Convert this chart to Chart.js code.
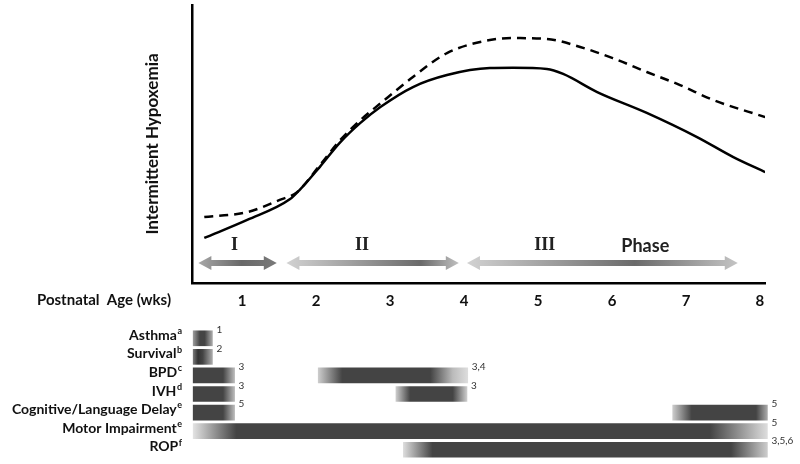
<!DOCTYPE html>
<html>
<head>
<meta charset="utf-8">
<title>Intermittent Hypoxemia and Outcomes by Postnatal Age</title>
<script src="https://cdn.jsdelivr.net/npm/chart.js@4.4.1/dist/chart.umd.min.js"></script>
<style>
  html, body { margin: 0; padding: 0; background: #fff; }
  #wrap { position: relative; width: 800px; height: 464px; }
  #topBox { position: absolute; left: 0; top: 0; width: 800px; height: 320px; }
  #botBox { position: absolute; left: 0; top: 320px; width: 800px; height: 144px; }
</style>
</head>
<body>
<div id="wrap">
  <div id="topBox"><canvas id="ihChart"></canvas></div>
  <div id="botBox"><canvas id="outcomeChart"></canvas></div>
</div>
<script>
/* =========================================
   Data
   ========================================= */
const weeks = [1, 2, 3, 4, 5, 6, 7, 8];

// solid curve
const solidX = [0.49, 1.07, 1.65, 1.78, 2.05, 2.32, 2.6, 2.87, 3.31, 3.77, 4.35, 4.66, 5.12, 5.34, 5.8, 6.47, 7.15, 7.64, 8.07];
const solidY = [16.2, 22.7, 30.2, 33.5, 41.7, 50.4, 57.6, 63.3, 70.5, 74.8, 77.3, 77.4, 77.0, 75.2, 68.7, 61.2, 52.5, 45.3, 39.9];

// dashed curve
const dashX = [0.49, 1.07, 1.51, 1.74, 2.05, 2.32, 2.6, 2.87, 3.31, 3.77, 4.35, 4.66, 5.12, 5.57, 6.01, 6.47, 6.92, 7.37, 8.07];
const dashY = [23.7, 25.5, 29.9, 32.6, 42.3, 51.2, 58.6, 64.6, 74.1, 82.7, 87.4, 88.1, 87.8, 84.9, 80.9, 75.9, 71.2, 65.8, 59.7];

// phases
const phaseNames = ['I', 'II', 'III'];
const phaseStart = [0.41, 1.6, 4.04];
const phaseEnd = [1.47, 3.93, 7.7];
const phaseLabelX = [0.9, 2.62, 5.09];
const phaseWordX = 6.45;

// outcomes
const conditions = ['Asthma', 'Survival', 'BPD', 'IVH', 'Cognitive/Language Delay', 'Motor Impairment', 'ROP'];
const conditionSup = ['a', 'b', 'c', 'd', 'e', 'e', 'f'];
const earlyRange = [[0.34, 0.6], [0.34, 0.6], [0.34, 0.9], [0.34, 0.9], [0.34, 0.9], [0.34, 8.1], [3.18, 8.1]];
const earlyRefs = ['1', '2', '3', '3', '5', '5', '3,5,6'];
const lateRange = [null, null, [2.03, 4.05], [3.08, 4.04], [6.82, 8.1], null, null];
const lateRefs = [null, null, '3,4', '3', '5', null, null];

/* =========================================
   Styling
   ========================================= */
const FONT = 'Lato, "Open Sans", sans-serif';
const INK = '#111';
const X_MIN = 0.324;
const X_MAX_TOP = 8.068;
const X_MAX_BOT = 8.135;

const arrowShade = [
    [[0, '#a8a8a8'], [0.55, '#686868'], [1, '#7a7a7a']],
    [[0, '#d2d2d2'], [0.78, '#6a6a6a'], [1, '#c0c0c0']],
    [[0, '#d2d2d2'], [0.62, '#6a6a6a'], [1, '#c4c4c4']]
];

const earlyShade = [
    [[0, '#9a9a9a'], [0.35, '#444'], [0.6, '#444'], [1, '#aaa']],
    [[0, '#777'], [0.25, '#333'], [0.5, '#444'], [1, '#aaa']],
    [[0, '#444'], [0.72, '#444'], [1, '#bbb']],
    [[0, '#444'], [0.72, '#444'], [1, '#bbb']],
    [[0, '#444'], [0.72, '#444'], [1, '#bbb']],
    [[0, '#e2e2e2'], [0.075, '#444'], [0.9, '#444'], [1, '#ddd']],
    [[0, '#ddd'], [0.08, '#444'], [0.9, '#444'], [1, '#ccc']]
];
const lateShade = [
    null, null,
    [[0, '#ccc'], [0.16, '#444'], [0.75, '#444'], [0.9, '#bbb'], [1, '#ddd']],
    [[0, '#ccc'], [0.2, '#444'], [0.8, '#444'], [1, '#ccc']],
    [[0, '#ccc'], [0.2, '#444'], [0.88, '#444'], [1, '#aaa']],
    null, null
];

function toPoints(xs, ys) {
    return xs.map((x, i) => ({ x: x, y: ys[i] }));
}

function barFill(ctx, shades) {
    const chart = ctx.chart;
    const raw = ctx.raw;
    const stops = shades[ctx.dataIndex];
    if (!raw || !stops || !chart.chartArea) return '#444';
    const xs = chart.scales.x;
    const g = chart.ctx.createLinearGradient(xs.getPixelForValue(raw[0]), 0, xs.getPixelForValue(raw[1]), 0);
    stops.forEach(s => g.addColorStop(s[0], s[1]));
    return g;
}

/* =========================================
   Plugins
   ========================================= */
const phasePlugin = {
    id: 'phases',
    afterDatasetsDraw(chart) {
        const { ctx, scales: { x, y } } = chart;
        const ay = y.getPixelForValue(7.2);
        const ly = y.getPixelForValue(13.4);
        ctx.save();
        phaseNames.forEach((name, i) => {
            const x0 = x.getPixelForValue(phaseStart[i]);
            const x1 = x.getPixelForValue(phaseEnd[i]);
            const g = ctx.createLinearGradient(x0, 0, x1, 0);
            arrowShade[i].forEach(s => g.addColorStop(s[0], s[1]));
            const shaft = 3, head = 7, hl = 13;
            ctx.beginPath();
            ctx.moveTo(x0, ay);
            ctx.lineTo(x0 + hl, ay - head);
            ctx.lineTo(x0 + hl, ay - shaft);
            ctx.lineTo(x1 - hl, ay - shaft);
            ctx.lineTo(x1 - hl, ay - head);
            ctx.lineTo(x1, ay);
            ctx.lineTo(x1 - hl, ay + head);
            ctx.lineTo(x1 - hl, ay + shaft);
            ctx.lineTo(x0 + hl, ay + shaft);
            ctx.lineTo(x0 + hl, ay + head);
            ctx.closePath();
            ctx.fillStyle = g;
            ctx.fill();

            ctx.fillStyle = '#222';
            ctx.font = 'bold 18px "Liberation Serif", "DejaVu Serif", serif';
            ctx.textAlign = 'center';
            ctx.textBaseline = 'middle';
            ctx.fillText(name, x.getPixelForValue(phaseLabelX[i]), ly);
        });
        ctx.font = 'bold 18px ' + FONT;
        ctx.fillText('Phase', x.getPixelForValue(phaseWordX), ly);

        // x axis caption, left of the tick labels
        ctx.font = 'bold 15px ' + FONT;
        ctx.fillStyle = INK;
        ctx.textAlign = 'right';
        ctx.fillText('Postnatal  Age (wks)', 171, 300);
        ctx.restore();
    }
};

const outcomePlugin = {
    id: 'outcomes',
    afterDatasetsDraw(chart) {
        const { ctx, scales: { y } } = chart;
        const right = chart.chartArea.left - 10;
        ctx.save();
        ctx.fillStyle = INK;
        ctx.textBaseline = 'middle';
        conditions.forEach((name, i) => {
            const py = y.getPixelForValue(i) - 3;
            ctx.font = 'bold 9px ' + FONT;
            ctx.textAlign = 'right';
            const supW = ctx.measureText(conditionSup[i]).width;
            ctx.fillText(conditionSup[i], right, py - 4);
            ctx.font = 'bold 14px ' + FONT;
            ctx.fillText(name, right - supW - 0.5, py);
        });

        // reference numbers at upper right corner of each bar
        ctx.font = '10px ' + FONT;
        ctx.fillStyle = '#333';
        ctx.textAlign = 'left';
        [earlyRefs, lateRefs].forEach((refs, di) => {
            const meta = chart.getDatasetMeta(di);
            meta.data.forEach((el, i) => {
                if (!refs[i] || !el || isNaN(el.x)) return;
                const top = el.y - el.height / 2;
                ctx.fillText(refs[i], el.x + 4, top - 1);
            });
        });
        ctx.restore();
    }
};

/* =========================================
   Charts
   ========================================= */
function buildCharts() {
    new Chart(document.getElementById('ihChart'), {
        type: 'line',
        data: {
            datasets: [{
                label: 'Solid',
                data: toPoints(solidX, solidY),
                borderColor: '#000',
                borderWidth: 2.5,
                pointRadius: 0,
                cubicInterpolationMode: 'monotone',
                fill: false
            }, {
                label: 'Dashed',
                data: toPoints(dashX, dashY),
                borderColor: '#000',
                borderWidth: 2.5,
                borderDash: [9, 6],
                pointRadius: 0,
                cubicInterpolationMode: 'monotone',
                fill: false
            }]
        },
        options: {
            responsive: true,
            maintainAspectRatio: false,
            animation: false,
            events: [],
            layout: { padding: { left: 138, right: 35, top: 5, bottom: 0 } },
            plugins: { legend: { display: false }, tooltip: { enabled: false } },
            scales: {
                x: {
                    type: 'linear',
                    min: X_MIN,
                    max: X_MAX_TOP,
                    grid: { display: false, drawTicks: false },
                    border: { display: true, color: '#000', width: 2.5 },
                    afterBuildTicks: s => { s.ticks = weeks.map(v => ({ value: v })); },
                    afterFit: s => { s.height = 37; },
                    ticks: {
                        autoSkip: false,
                        maxRotation: 0,
                        padding: 9,
                        color: INK,
                        font: { family: FONT, size: 15, weight: 'bold' }
                    }
                },
                y: {
                    min: 0,
                    max: 100,
                    grid: { display: false, drawTicks: false },
                    border: { display: true, color: '#000', width: 2.5 },
                    ticks: { display: false },
                    afterFit: s => { s.width = 54; },
                    title: {
                        display: true,
                        text: 'Intermittent Hypoxemia',
                        color: INK,
                        padding: { top: 4, bottom: 0 },
                        font: { family: FONT, size: 17, weight: 'bold' }
                    }
                }
            }
        },
        plugins: [phasePlugin]
    });

    new Chart(document.getElementById('outcomeChart'), {
        type: 'bar',
        data: {
            labels: conditions,
            datasets: [{
                label: 'early',
                data: earlyRange,
                backgroundColor: ctx => barFill(ctx, earlyShade)
            }, {
                label: 'late',
                data: lateRange,
                backgroundColor: ctx => barFill(ctx, lateShade)
            }]
        },
        options: {
            indexAxis: 'y',
            responsive: true,
            maintainAspectRatio: false,
            animation: false,
            events: [],
            layout: { padding: { left: 192, right: 30, top: 9, bottom: 5 } },
            datasets: { bar: { grouped: false, barThickness: 15, borderWidth: 0 } },
            plugins: { legend: { display: false }, tooltip: { enabled: false } },
            scales: {
                x: { type: 'linear', min: X_MIN, max: X_MAX_BOT, display: false },
                y: { display: false }
            }
        },
        plugins: [outcomePlugin]
    });
}

document.addEventListener('DOMContentLoaded', () => {
    const ready = document.fonts && document.fonts.load
        ? Promise.all([document.fonts.load('bold 15px Lato'), document.fonts.load('bold 18px "Liberation Serif"')])
        : Promise.resolve();
    ready.then(buildCharts, buildCharts);
});
</script>
</body>
</html>
